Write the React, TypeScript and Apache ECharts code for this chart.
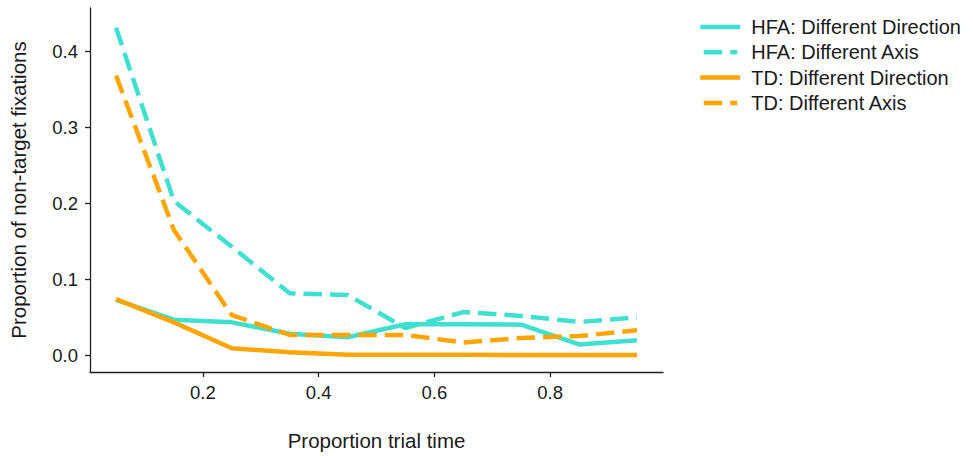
import React, { useEffect, useRef } from "react";
import * as echarts from "echarts";

const xValues = [0.05, 0.15, 0.25, 0.35, 0.45, 0.55, 0.65, 0.75, 0.85, 0.95];
const hfaDirection = [0.073, 0.047, 0.0435, 0.0285, 0.024, 0.041, 0.041, 0.0405, 0.0145, 0.02];
const hfaAxis = [0.431, 0.203, 0.143, 0.0818, 0.0796, 0.036, 0.057, 0.052, 0.044, 0.05];
const tdDirection = [0.074, 0.0435, 0.0094, 0.0043, 0.001, 0.0008, 0.0008, 0.0006, 0.0005, 0.0005];
const tdAxis = [0.368, 0.165, 0.053, 0.027, 0.027, 0.027, 0.017, 0.023, 0.0255, 0.033];
const xTicks = [0.2, 0.4, 0.6, 0.8];
const yTicks = [0.0, 0.1, 0.2, 0.3, 0.4];

const TURQ = "#40E0D0";
const ORANGE = "#FFA500";
const FONT = "'Liberation Sans', Arial, sans-serif";
const DASH = [18.5, 8];
const LEGEND_DASH = [0, 3.5, 18.5, 8, 7, 20];

export default function App() {
  const ref = useRef<HTMLDivElement>(null);
  useEffect(() => {
    if (!ref.current) return;
    const chart = echarts.init(ref.current, undefined, { renderer: "svg" });
    const pair = (ys: number[]) => xValues.map((x, i) => [x, ys[i]]);
    const mk = (name: string, ys: number[], color: string, dashed: boolean) => ({
      name,
      type: "line",
      data: pair(ys),
      symbol: "none",
      lineStyle: { color, width: 4.5, type: dashed ? DASH : "solid" },
      itemStyle: { color },
      z: 2,
    });
    const axisCommon = {
      axisLine: { show: true, onZero: false, lineStyle: { color: "#222", width: 1.3 } },
      axisTick: { show: true, length: 5, lineStyle: { color: "#222", width: 1.3 } },
      splitLine: { show: false },
    };
    chart.setOption({
      animation: false,
      backgroundColor: "#fff",
      grid: { left: 89, right: 310, top: 8, bottom: 76, containLabel: false },
      legend: {
        orient: "vertical",
        left: 693,
        top: 12,
        itemWidth: 40,
        itemHeight: 14,
        itemGap: 5.3,
        itemStyle: { opacity: 0 },
        lineStyle: { width: 4.5 },
        textStyle: { fontFamily: FONT, fontSize: 20, lineHeight: 20, color: "#1a1a1a", padding: [0, 0, 0, 6] },
        data: [
          { name: "HFA: Different Direction" },
          { name: "HFA: Different Axis", lineStyle: { type: LEGEND_DASH, width: 4.5 } },
          { name: "TD: Different Direction" },
          { name: "TD: Different Axis", lineStyle: { type: LEGEND_DASH, width: 4.5 } },
        ],
      },
      xAxis: {
        type: "value",
        min: 0.005,
        max: 0.995,
        name: "Proportion trial time",
        nameLocation: "middle",
        nameGap: 58,
        nameTextStyle: { fontFamily: FONT, fontSize: 20.5, color: "#1a1a1a" },
        ...axisCommon,
        axisTick: { ...axisCommon.axisTick, customValues: xTicks },
        axisLabel: {
          customValues: xTicks,
          margin: 11,
          fontFamily: FONT,
          fontSize: 18.5,
          color: "#1a1a1a",
          formatter: (v: number) => v.toFixed(1),
        },
      },
      yAxis: {
        type: "value",
        min: -0.0218,
        max: 0.457,
        name: "Proportion of non-target fixations",
        nameLocation: "middle",
        nameGap: 61,
        nameTextStyle: { fontFamily: FONT, fontSize: 20.5, color: "#1a1a1a" },
        ...axisCommon,
        axisTick: { ...axisCommon.axisTick, customValues: yTicks },
        axisLabel: {
          customValues: yTicks,
          margin: 12,
          fontFamily: FONT,
          fontSize: 18.5,
          color: "#1a1a1a",
          formatter: (v: number) => v.toFixed(1),
        },
      },
      series: [
        mk("HFA: Different Direction", hfaDirection, TURQ, false),
        mk("HFA: Different Axis", hfaAxis, TURQ, true),
        mk("TD: Different Direction", tdDirection, ORANGE, false),
        mk("TD: Different Axis", tdAxis, ORANGE, true),
      ],
    });
    return () => chart.dispose();
  }, []);
  return (
    <div
      ref={ref}
      style={{ position: "fixed", left: 0, top: 0, width: 973, height: 456, background: "#fff" }}
    />
  );
}
